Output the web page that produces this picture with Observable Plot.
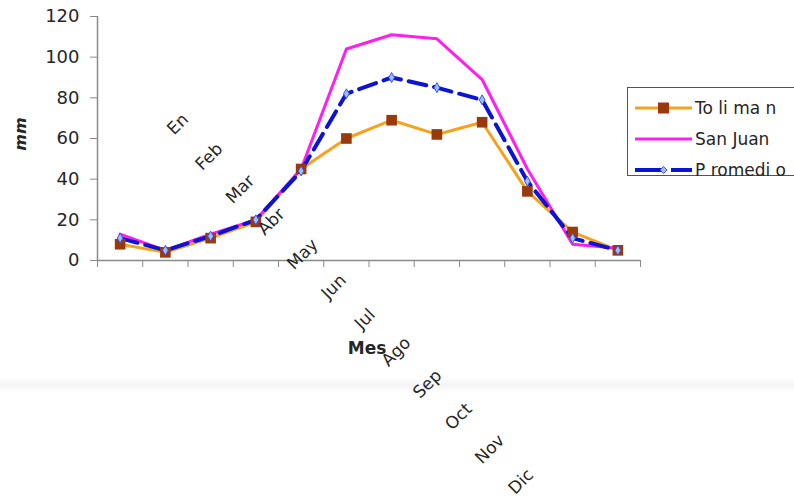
<!DOCTYPE html>
<html><head><meta charset="utf-8">
<script src="https://cdn.jsdelivr.net/npm/d3@7"></script>
<script src="https://cdn.jsdelivr.net/npm/@observablehq/plot@0.6"></script>
<style>
body{margin:0;background:#fff;overflow:hidden;font-family:"DejaVu Sans",sans-serif;color:#262626}
#wrap{position:relative;width:794px;height:502px;overflow:hidden}
#band{position:absolute;left:0;top:377px;width:794px;height:16px;background:linear-gradient(#fff,#f5f5f5,#fff)}
#chart{position:absolute;left:0;top:0}
#chart g[aria-label="y-axis tick label"], #chart g[aria-label="y-axis tick label"] text{font-size:18px !important}
#legend{position:absolute;left:627px;top:87px;width:200px;height:89px;border:1px solid #555;background:#fff;box-sizing:border-box}
.lrow{position:absolute;left:0;height:24px;display:flex;align-items:center;font-size:17px;white-space:nowrap}
.lrow svg{margin-left:7px;margin-right:3px}
#ylab{position:absolute;left:20px;top:134px;transform:translate(-50%,-50%) rotate(-90deg);font-weight:bold;font-style:italic;font-size:16px}
#xlab{position:absolute;left:367px;top:348px;transform:translate(-50%,-50%);font-weight:bold;font-size:17px}
</style></head><body>
<div id="wrap"><div id="band"></div><div id="chart"></div><div id="ylab">mm</div><div id="xlab">Mes</div><div id="legend"></div></div>
<script>
const months = ["En","Feb","Mar","Abr","May","Jun","Jul","Ago","Sep","Oct","Nov","Dic"];
const toliman = [8, 4, 11, 19, 45, 60, 69, 62, 68, 34, 14, 5];
const sanJuan = [13, 5, 13, 20, 45, 104, 111, 109, 89, 45, 8, 6];
const promedio = [11, 5, 12, 20, 44, 82, 90, 85, 79, 39, 11, 5];
const yTicks = [0, 20, 40, 60, 80, 100, 120];
const seriesNames = ["To li ma n", "San Juan", "P romedi o"];

const C_TOL = "#F5A21C", C_TOLM = "#9A3A0C", C_SJ = "#FF1EF0", C_PRO = "#0A14D2", C_PROM = "#9CC0FF";

const rows = months.map((m, i) => ({month: m, x: i + 0.5, toliman: toliman[i], sanJuan: sanJuan[i], promedio: promedio[i]}));
const boundaries = d3.range(months.length + 1);

const plot = Plot.plot({
  width: 794, height: 502,
  marginLeft: 97, marginRight: 154, marginTop: 16, marginBottom: 242,
  style: {fontFamily: "DejaVu Sans, sans-serif", fontSize: "18px", color: "#262626", background: "transparent"},
  x: {type: "linear", domain: [0, months.length]},
  y: {domain: [0, 120]},
  marks: [
    Plot.axisY({ticks: yTicks, tickSize: 7, tickPadding: 11, fontSize: 18, stroke: "#8a8a8a", label: null}),
    Plot.axisX({ticks: boundaries, tickFormat: () => "", tickSize: 7, stroke: "#8a8a8a", label: null}),
    Plot.ruleY([0], {stroke: "#8a8a8a", strokeWidth: 1.5}),
    Plot.ruleX([0], {stroke: "#8a8a8a", strokeWidth: 1.5}),
    Plot.line(rows, {x: "x", y: "toliman", stroke: C_TOL, strokeWidth: 3}),
    Plot.line(rows, {x: "x", y: "sanJuan", stroke: C_SJ, strokeWidth: 3}),
    Plot.line(rows, {x: "x", y: "promedio", stroke: C_PRO, strokeWidth: 4, strokeDasharray: "18,8"}),
    Plot.dot(rows, {x: "x", y: "toliman", symbol: "square", r: 6, fill: C_TOLM, stroke: "none"}),
    Plot.dot(rows, {x: "x", y: "promedio", symbol: "diamond", r: 3, fill: C_PROM, stroke: "#3a50e0", strokeWidth: 1}),
    Plot.text(rows, {x: "x", text: "month", frameAnchor: "top", rotate: -45, dx: 53, dy: 103, fontSize: 17, fill: "#262626"})
  ]
});
document.getElementById("chart").appendChild(plot);

// staircase layout of the month labels, as in the reference
plot.querySelectorAll("text").forEach(el => {
  const i = months.indexOf(el.textContent);
  const t = el.getAttribute("transform") || "";
  if (i >= 0 && t.includes("rotate")) {
    el.setAttribute("transform", `translate(${-14.05 * i},${32.5 * i}) ` + t);
  }
});

// legend
const legend = document.getElementById("legend");
const samples = [
  `<svg width="57" height="14"><line x1="0" y1="7" x2="57" y2="7" stroke="${C_TOL}" stroke-width="3"/><rect x="23" y="1.5" width="11" height="11" fill="${C_TOLM}"/></svg>`,
  `<svg width="57" height="14"><line x1="0" y1="7" x2="57" y2="7" stroke="${C_SJ}" stroke-width="3"/></svg>`,
  `<svg width="57" height="14"><line x1="0" y1="7" x2="57" y2="7" stroke="${C_PRO}" stroke-width="4" stroke-dasharray="27,9"/><path d="M28.5,3.5L32,7L28.5,10.5L25,7Z" fill="${C_PROM}" stroke="#3a50e0" stroke-width="1"/></svg>`
];
seriesNames.forEach((name, i) => {
  const row = document.createElement("div");
  row.className = "lrow";
  row.style.top = (8 + i * 31) + "px";
  row.innerHTML = samples[i] + `<span>${name}</span>`;
  legend.appendChild(row);
});
</script>
</body></html>
